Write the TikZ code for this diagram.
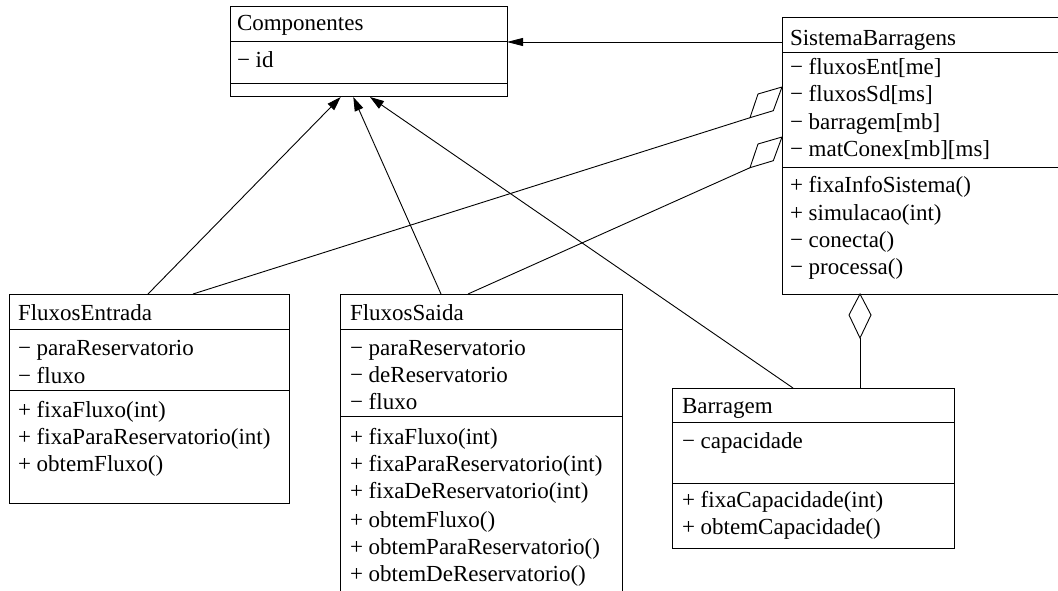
\documentclass[tikz,border=0pt]{standalone}
\usepackage{fontspec}
\setmainfont{Liberation Serif}
\usetikzlibrary{calc,arrows.meta}
\tikzset{
  box/.style={draw, line width=1pt, rectangle, inner sep=0pt, outer sep=0pt, anchor=north west},
  txt/.style={anchor=base west, inner sep=0pt, outer sep=0pt, font=\fontsize{23}{27}\selectfont},
  sep/.style={line width=1pt},
  conn/.style={line width=0.9pt},
  inh/.style={conn, -{Triangle[length=14pt, width=9pt]}},
  agg/.style={line width=0.9pt, fill=white}
}
\begin{document}
\begin{tikzpicture}[x=1pt, y=-1pt]
\useasboundingbox (0,0) rectangle (1058,591);
\clip (0,0) rectangle (1058,591);
\fill[white] (0,0) rectangle (1058,591);

% boxes
\node[box, minimum width=277pt, minimum height=90pt] (comp) at (230,7) {};
\node[box, minimum width=290pt, minimum height=276pt] (sis) at (782,18) {};
\node[box, minimum width=280pt, minimum height=209pt] (fe) at (9,294) {};
\node[box, minimum width=282pt, minimum height=320pt] (fs) at (340,294) {};
\node[box, minimum width=282pt, minimum height=160pt] (bar) at (672,388) {};

% compartment separators
\draw[sep] ($(comp.north west)+(0,35)$) -- ($(comp.north east)+(0,35)$);
\draw[sep] ($(comp.north west)+(0,77)$) -- ($(comp.north east)+(0,77)$);
\draw[sep] ($(sis.north west)+(0,34.5)$) -- ($(sis.north east)+(0,34.5)$);
\draw[sep] ($(sis.north west)+(0,150)$) -- ($(sis.north east)+(0,150)$);
\draw[sep] ($(fe.north west)+(0,35)$) -- ($(fe.north east)+(0,35)$);
\draw[sep] ($(fe.north west)+(0,96)$) -- ($(fe.north east)+(0,96)$);
\draw[sep] ($(fs.north west)+(0,35)$) -- ($(fs.north east)+(0,35)$);
\draw[sep] ($(fs.north west)+(0,122)$) -- ($(fs.north east)+(0,122)$);
\draw[sep] ($(bar.north west)+(0,34)$) -- ($(bar.north east)+(0,34)$);
\draw[sep] ($(bar.north west)+(0,95)$) -- ($(bar.north east)+(0,95)$);

% texts: Componentes
\node[txt] (c1) at (237,30.5) {Componentes};
\node[txt] (c2) at (237,68) {− id};
% SistemaBarragens
\node[txt] (s1) at (790,45.5) {SistemaBarragens};
\node[txt] (s2) at (790,75) {− fluxosEnt[me]};
\node[txt] (s3) at (790,102) {− fluxosSd[ms]};
\node[txt] (s4) at (790,130) {− barragem[mb]};
\node[txt] (s5) at (790,157) {− matConex[mb][ms]};
\node[txt] (s6) at (790,193) {+ fixaInfoSistema()};
\node[txt] (s7) at (790,220) {+ simulacao(int)};
\node[txt] (s8) at (790,247) {− conecta()};
\node[txt] (s9) at (790,274) {− processa()};
% FluxosEntrada
\node[txt] (e1) at (18,320) {FluxosEntrada};
\node[txt] (e2) at (18,355) {− paraReservatorio};
\node[txt] (e3) at (18,383) {− fluxo};
\node[txt] (e4) at (18,417) {+ fixaFluxo(int)};
\node[txt] (e5) at (18,444) {+ fixaParaReservatorio(int)};
\node[txt] (e6) at (18,471) {+ obtemFluxo()};
% FluxosSaida
\node[txt] (f1) at (350,320) {FluxosSaida};
\node[txt] (f2) at (350,355) {− paraReservatorio};
\node[txt] (f3) at (350,382) {− deReservatorio};
\node[txt] (f4) at (350,409) {− fluxo};
\node[txt] (f5) at (350,444) {+ fixaFluxo(int)};
\node[txt] (f6) at (350,471) {+ fixaParaReservatorio(int)};
\node[txt] (f7) at (350,498) {+ fixaDeReservatorio(int)};
\node[txt] (f8) at (350,527) {+ obtemFluxo()};
\node[txt] (f9) at (350,554) {+ obtemParaReservatorio()};
\node[txt] (f10) at (350,581) {+ obtemDeReservatorio()};
% Barragem
\node[txt] (b1) at (682,413) {Barragem};
\node[txt] (b2) at (682,448) {− capacidade};
\node[txt] (b3) at (682,507) {+ fixaCapacidade(int)};
\node[txt] (b4) at (682,534) {+ obtemCapacidade()};

% connector end points
\coordinate (compA) at ($(comp.south west)+(110.7,0)$);
\coordinate (compB) at ($(comp.south west)+(123.3,0)$);
\coordinate (compC) at ($(comp.south west)+(140,0)$);
\coordinate (compR) at ($(comp.north east)+(0,35)$);
\coordinate (sisL) at ($(sis.north west)+(0,24)$);
\coordinate (feA) at ($(fe.north west)+(139,0)$);
\coordinate (feB) at ($(fe.north west)+(184,0)$);
\coordinate (fsA) at ($(fs.north west)+(101,0)$);
\coordinate (fsB) at ($(fs.north west)+(128,0)$);
\coordinate (barA) at ($(bar.north west)+(121,0)$);
\coordinate (barB) at ($(bar.north west)+(188,0)$);
\coordinate (d1) at ($(sis.north west)+(0,69)$);
\coordinate (d2) at ($(sis.north west)+(0,119)$);
\coordinate (d3) at (sis.south west -| barB);
\coordinate (d1b) at ($(d1)+(-32,30.7)$);
\coordinate (d2b) at ($(d2)+(-32,30.7)$);
\coordinate (d3b) at ($(d3)+(0,44)$);

% generalizations
\draw[inh] (feA) -- (compA);
\draw[inh] (fsA) -- (compB);
\draw[inh] (barA) -- (compC);
\draw[conn, -{Triangle[length=16pt, width=8pt]}] (sisL) -- (compR);

% aggregations
\draw[conn] (feB) -- (d1b);
\draw[conn] (fsB) -- (d2b);
\draw[conn] (barB) -- (d3b);
\draw[agg] (d1) -- ++(-24,7) -- ++(-8,23.7) -- ++(23.3,-7) -- cycle;
\draw[agg] (d2) -- ++(-24,7) -- ++(-8,23.7) -- ++(23.3,-7) -- cycle;
\draw[agg] (d3) -- ++(-11,21) -- ++(11,23) -- ++(11,-23) -- cycle;
\end{tikzpicture}
\end{document}
